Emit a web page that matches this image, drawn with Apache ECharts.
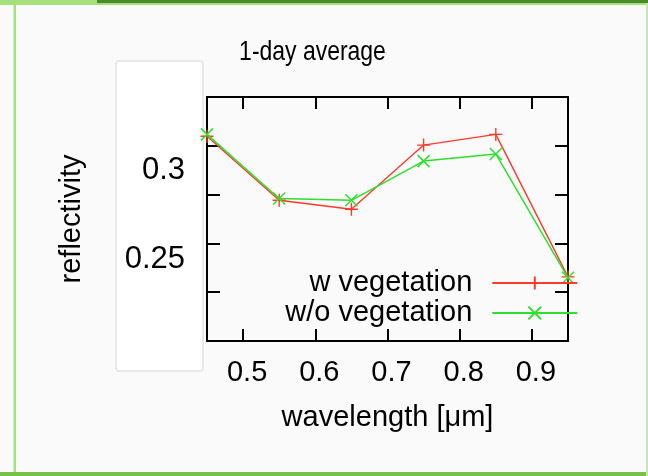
<!DOCTYPE html>
<html>
<head>
<meta charset="utf-8">
<script src="https://cdn.jsdelivr.net/npm/echarts@6/dist/echarts.min.js"></script>
<style>
  html, body { margin: 0; padding: 0; background: #fafafa; }
  #chart { width: 648px; height: 476px; }
</style>
</head>
<body>
<div id="chart"></div>
<script>
// Band-averaged reflectivity over one day, with and without vegetation
const wavelengths = [0.45, 0.55, 0.65, 0.75, 0.85, 0.95];
const withVegetation = [0.319, 0.283, 0.278, 0.314, 0.320, 0.240];
const withoutVegetation = [0.320, 0.284, 0.283, 0.305, 0.309, 0.2395];
const seriesNames = ['w vegetation', 'w/o vegetation'];
const xTickLabels = [0.5, 0.6, 0.7, 0.8, 0.9];
const yTickLabels = [0.25, 0.3];

const xMin = 0.45, xMax = 0.95;
const yMin = 0.204, yMax = 0.341;
// four evenly spaced inner tick marks on the value axis
const yTickMarks = [1, 2, 3, 4].map(k => yMin + k * (yMax - yMin) / 5);

const FONT = '"Liberation Sans", Arial, Helvetica, sans-serif';
const RED = '#ff3a2a';
const GREEN = '#2ee02e';
const plusPath = 'path://M0,5L10,5M5,0L5,10';
const crossPath = 'path://M0,0L10,10M10,0L0,10';

const frameAxis = {
  axisLine: { show: true, lineStyle: { color: '#000', width: 2 } },
  splitLine: { show: false }
};

const chart = echarts.init(document.getElementById('chart'), null, { renderer: 'canvas' });

chart.setOption({
  animation: false,
  backgroundColor: '#fafafa',
  grid: { left: 207, top: 97, width: 361, height: 244, containLabel: false },
  graphic: [
    { type: 'rect', z: -5, shape: { x: 0, y: 0, width: 648, height: 5 }, style: { fill: '#a8df7e' } },
    { type: 'rect', z: -4, shape: { x: 97, y: 0, width: 551, height: 3 }, style: { fill: '#4c8a2a' } },
    { type: 'rect', z: -5, shape: { x: 13.5, y: 5, width: 2.5, height: 471 }, style: { fill: '#a8df7e' } },
    { type: 'rect', z: -5, shape: { x: 0, y: 472, width: 648, height: 4 }, style: { fill: '#78c048' } },
    { type: 'rect', z: -5, shape: { x: 646, y: 0, width: 2, height: 476 }, style: { fill: '#c4eaa8' } },
    {
      type: 'rect', z: -3,
      shape: { x: 116, y: 61, width: 87, height: 310, r: 2 },
      style: { fill: '#ffffff', stroke: '#d6d6d6', lineWidth: 1 }
    },
    {
      type: 'text', z: 10, x: 312.5, y: 52.5, scaleX: 0.82,
      style: {
        text: '1-day average', x: 0, y: 0,
        font: '28px ' + FONT, fill: '#000',
        textAlign: 'center', textVerticalAlign: 'middle'
      }
    }
  ],
  legend: {
    orient: 'vertical',
    right: 69.7,
    top: 268,
    padding: 0,
    align: 'right',
    itemGap: 0,
    itemWidth: 85,
    itemHeight: 16,
    data: seriesNames,
    textStyle: {
      fontFamily: FONT, fontSize: 29, color: '#000',
      lineHeight: 30, padding: [0, 15, 0, 0]
    }
  },
  xAxis: [
    Object.assign({}, frameAxis, {
      type: 'value', position: 'bottom', min: xMin, max: xMax,
      name: 'wavelength [μm]', nameLocation: 'middle', nameGap: 62,
      nameTextStyle: { fontFamily: FONT, fontSize: 29, color: '#000' },
      axisTick: { show: true, inside: true, length: 12, customValues: xTickLabels, lineStyle: { color: '#000', width: 2 } },
      axisLabel: {
        show: true, customValues: xTickLabels, margin: 17,
        fontFamily: FONT, fontSize: 29, color: '#000', padding: [0, 0, 0, 8],
        formatter: v => String(v)
      }
    }),
    Object.assign({}, frameAxis, {
      type: 'value', position: 'top', min: xMin, max: xMax,
      axisTick: { show: true, inside: true, length: 12, customValues: xTickLabels, lineStyle: { color: '#000', width: 2 } },
      axisLabel: { show: false }
    })
  ],
  yAxis: [
    Object.assign({}, frameAxis, {
      type: 'value', position: 'left', min: yMin, max: yMax,
      name: 'reflectivity', nameLocation: 'middle', nameGap: 121, nameRotate: 90,
      nameTextStyle: { fontFamily: FONT, fontSize: 29, color: '#000' },
      axisTick: { show: true, inside: true, length: 13, customValues: yTickMarks, lineStyle: { color: '#000', width: 2 } },
      axisLabel: {
        show: true, customValues: yTickLabels, margin: 22,
        fontFamily: FONT, fontSize: 31, color: '#000',
        formatter: v => String(v)
      }
    }),
    Object.assign({}, frameAxis, {
      type: 'value', position: 'right', min: yMin, max: yMax,
      axisTick: { show: true, inside: true, length: 13, customValues: yTickMarks, lineStyle: { color: '#000', width: 2 } },
      axisLabel: { show: false }
    })
  ],
  series: [
    {
      name: seriesNames[0], type: 'line',
      xAxisIndex: 0, yAxisIndex: 0,
      data: wavelengths.map((w, i) => [w, withVegetation[i]]),
      symbol: plusPath, symbolSize: 13, showAllSymbol: true,
      lineStyle: { color: RED, width: 1.4 },
      itemStyle: { color: RED, borderColor: RED, borderWidth: 1.4 },
      clip: false
    },
    {
      name: seriesNames[1], type: 'line',
      xAxisIndex: 0, yAxisIndex: 0,
      data: wavelengths.map((w, i) => [w, withoutVegetation[i]]),
      symbol: crossPath, symbolSize: 12, showAllSymbol: true,
      lineStyle: { color: GREEN, width: 1.5 },
      itemStyle: { color: GREEN, borderColor: GREEN, borderWidth: 1.5 },
      clip: false
    }
  ]
});
</script>
</body>
</html>
